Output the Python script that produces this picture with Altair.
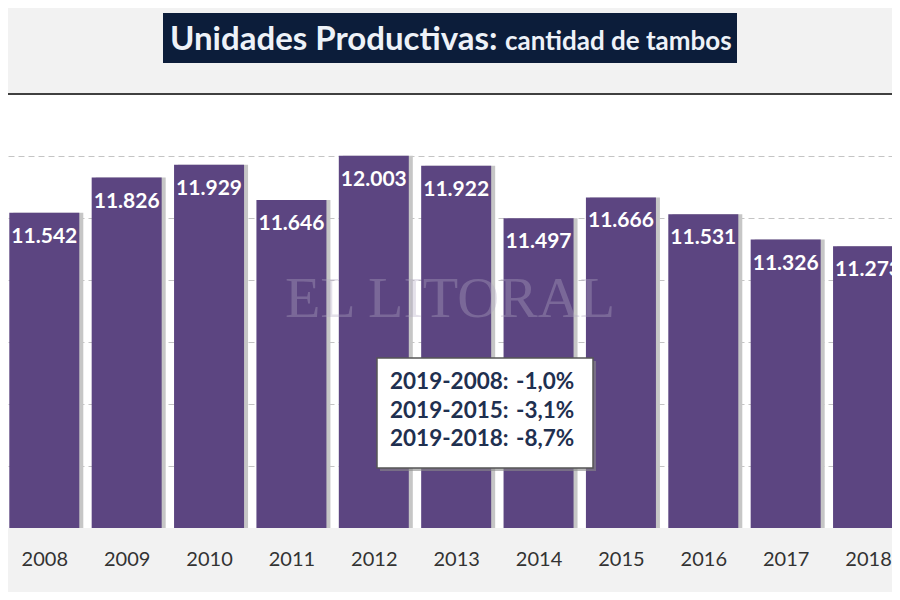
import altair as alt
import pandas as pd

# ---- data ----
years = [2008, 2009, 2010, 2011, 2012, 2013, 2014, 2015, 2016, 2017, 2018]
values = [11542, 11826, 11929, 11646, 12003, 11922, 11497, 11666, 11531, 11326, 11273]
value_labels = ["11.542", "11.826", "11.929", "11.646", "12.003", "11.922",
                "11.497", "11.666", "11.531", "11.326", "11.273"]
grid_values = [9500, 10000, 10500, 11000, 11500, 12000]
y_domain = [9000, 12500]
x_domain = [2007.62, 2018.23]          # the reference is a crop of a wider chart
ann_periods = ["2019-2008:", "2019-2015:", "2019-2018:"]
ann_changes = ["-1,0%", "-3,1%", "-8,7%"]
title_main = "Unidades Productivas:"
title_sub = "cantidad de tambos"
watermark_text = "EL LITORAL"

df = pd.DataFrame({"year": years, "value": values, "label": value_labels})
one = pd.DataFrame({"k": [0]})

PURPLE = "#5c4581"
NAVY = "#0c1d3a"

x = alt.X(
    "year:Q",
    scale=alt.Scale(domain=x_domain, nice=False, zero=False),
    axis=alt.Axis(values=years, format="d", labelFont="Lato", labelFontSize=20,
                  labelColor="#333333", labelBaseline="middle", labelPadding=31,
                  ticks=False, tickSize=0, domain=False, grid=False, title=None,
                  labelFlush=False, labelOverlap=False),
)
y = alt.Y(
    "value:Q",
    scale=alt.Scale(domain=y_domain, nice=False, zero=False),
    axis=alt.Axis(values=grid_values, grid=True, gridDash=[6, 4], gridColor="#c4c4c4",
                  gridWidth=1, labels=False, ticks=False, domain=False, title=None),
)

base = alt.Chart(df)

shadow = base.mark_bar(size=70, xOffset=4, color="#c6c6c6", clip=True).encode(
    x=x, y=y, y2=alt.datum(y_domain[0]))
bars = base.mark_bar(size=70, color=PURPLE, clip=True).encode(
    x=x, y=y, y2=alt.datum(y_domain[0]))
bar_text = base.mark_text(font="Lato", fontWeight="bold", fontSize=21, color="white",
                          baseline="middle", dy=24, clip=True).encode(
    x=x, y=y, text="label:N")

watermark = alt.Chart(one).mark_text(
    text=watermark_text, font="Liberation Serif", fontSize=58, color="#b3aac4",
    opacity=0.35, align="center", baseline="middle").encode(
    x=alt.value(442), y=alt.value(206))

top_line = alt.Chart(one).mark_rule(color="#404040", strokeWidth=2).encode(y=alt.value(0))

ann_shadow = alt.Chart(one).mark_rect(color="#8a8a8a", opacity=0.6).encode(
    x=alt.value(372), x2=alt.value(588), y=alt.value(267), y2=alt.value(377))
ann_box = alt.Chart(one).mark_rect(fill="white", stroke="#555555", strokeWidth=1.5).encode(
    x=alt.value(369), x2=alt.value(585), y=alt.value(264), y2=alt.value(374))
ann_left = alt.Chart(one).mark_text(
    text=ann_periods, font="Lato", fontWeight="bold", fontSize=22.5, color="#1f3050",
    align="left", baseline="middle", lineHeight=28.5).encode(
    x=alt.value(382), y=alt.value(288))
ann_right = alt.Chart(one).mark_text(
    text=ann_changes, font="Lato", fontWeight="bold", fontSize=22.5, color="#1f3050",
    align="left", baseline="middle", lineHeight=28.5).encode(
    x=alt.value(508), y=alt.value(288))

title_box = alt.Chart(one).mark_rect(color=NAVY).encode(
    x=alt.value(155), x2=alt.value(729), y=alt.value(-81), y2=alt.value(-31))
title_a = alt.Chart(one).mark_text(
    text=title_main, font="Lato", fontWeight="bold", fontSize=33, color="#eef2f8",
    align="left", baseline="alphabetic").encode(x=alt.value(162), y=alt.value(-44))
title_b = alt.Chart(one).mark_text(
    text=title_sub, font="Lato", fontWeight="bold", fontSize=26, color="#eef2f8",
    align="left", baseline="alphabetic").encode(x=alt.value(497), y=alt.value(-44))

chart = alt.layer(
    shadow, bars, bar_text, watermark, top_line,
    ann_shadow, ann_box, ann_left, ann_right,
    title_box, title_a, title_b,
).properties(
    width=884, height=434,
    padding={"top": 86, "bottom": 64, "left": 0, "right": 0},
    autosize=alt.AutoSizeParams(type="none"),
    background="#f2f2f2",
).configure_view(fill="white", stroke=None)

chart.save("out.html", embed_options={"renderer": "svg", "actions": False})
